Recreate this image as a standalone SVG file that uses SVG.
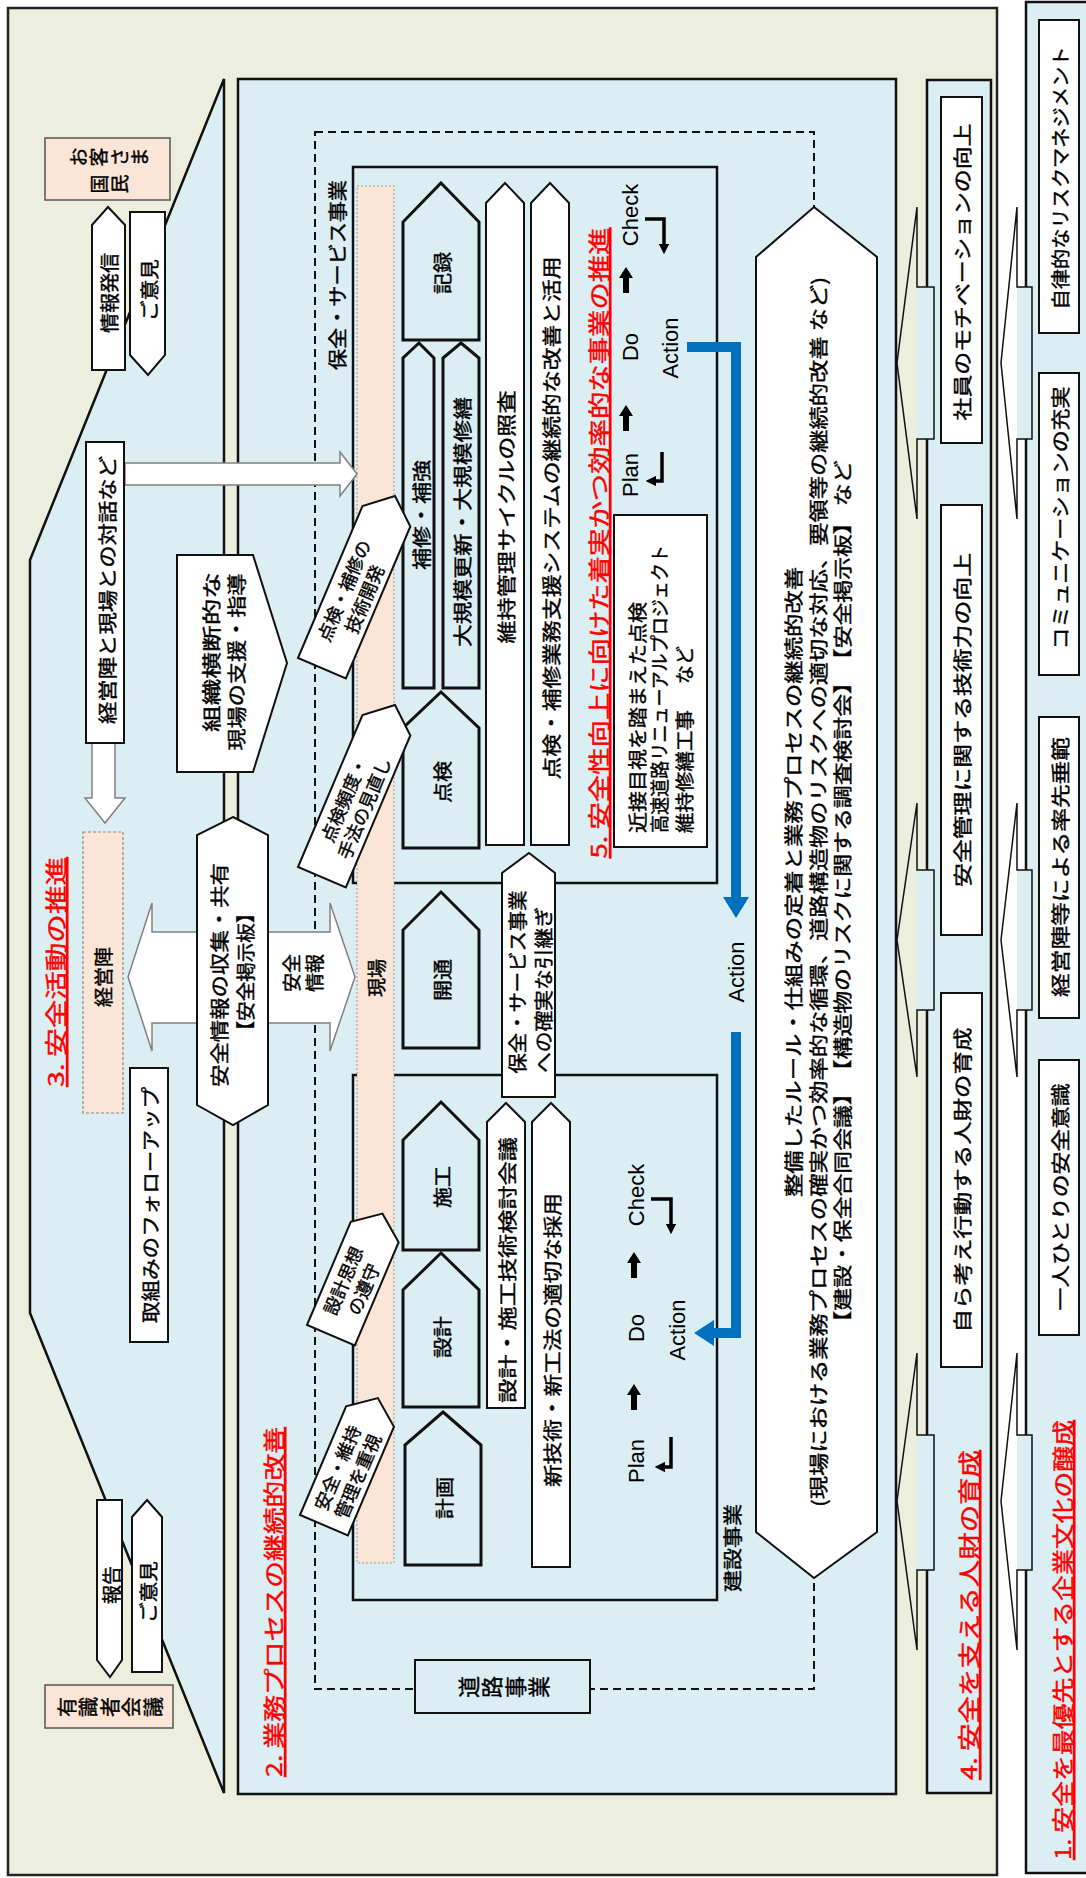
<svg xmlns="http://www.w3.org/2000/svg" width="1086" height="1878" viewBox="0 0 1086 1878">
<defs>
<style>
.jp{font-family:"Noto Sans CJK JP","Noto Sans CJK SC",sans-serif;font-size:19px;fill:#000;stroke:#000;stroke-width:0.4;text-anchor:middle;dominant-baseline:central}
.st{text-anchor:start}
.en{font-family:"Liberation Sans",Arial,sans-serif;font-size:22px;fill:#000;text-anchor:middle;dominant-baseline:central}
.red{fill:#FF0000;stroke:#FF0000;text-decoration:underline;font-size:22px}
.tl{font-size:18px}
.beige{fill:#ECEEDE;stroke:#222;stroke-width:2.5}
.lb{fill:#DAEEF3;stroke:#111;stroke-width:2.5}
.frame{fill:none;stroke:#111;stroke-width:2.5}
.wb{fill:#fff;stroke:#111;stroke-width:2}
.pent{fill:#DAEEF3;stroke:#111;stroke-width:3}
.peach{fill:#FBE5D6;stroke:#555;stroke-width:1.5}
.peachd{fill:#FBE5D6;stroke:#888;stroke-width:1.2;stroke-dasharray:3 2}
.gray{fill:#fff;stroke:#808080;stroke-width:1.5}
.dash{fill:none;stroke:#111;stroke-width:2;stroke-dasharray:8 5}
.blue{fill:none;stroke:#0070C0;stroke-width:10}
.bl{fill:#0070C0}
.bk{fill:none;stroke:#000;stroke-width:3.5}
.shaft{fill:#DAEEF3;stroke:none}
.aout{fill:none;stroke:#111;stroke-width:1.5}
</style>
<marker id="tri" viewBox="0 0 10 10" refX="4" refY="5" markerWidth="3" markerHeight="3" orient="auto"><path d="M0,0 L10,5 L0,10 Z" fill="#000"/></marker>
<path id="uparr" d="M0,-13 L7,-2 L3,-2 L3,13 L-3,13 L-3,-2 L-7,-2 Z" fill="#000"/>
</defs>
<rect x="0" y="0" width="1086" height="1878" fill="#fff"/>

<g id="frame-outer"><rect class="beige" x="8" y="8" width="989" height="1867"/></g>
<g id="strip1"><rect class="lb" x="1026" y="2" width="80" height="1871"/></g>
<g id="trapezoid3"><polygon class="lb" points="224,79 30,560 30,1313 224,1793"/></g>
<g id="box2"><rect class="lb" x="238" y="79" width="658" height="1715"/></g>
<g id="strip4"><rect class="lb" x="927" y="80" width="64" height="1713"/></g>

<g id="road-dashed"><rect class="dash" x="315" y="132" width="499" height="1557"/></g>
<g id="hozen-box"><rect class="frame" x="353" y="167" width="364" height="716"/></g>
<g id="kensetsu-box"><rect class="frame" x="353" y="1075" width="364" height="525"/></g>
<g id="genba-bar"><rect x="357" y="186" width="37" height="1377" fill="#FBE5D6" stroke="#999" stroke-width="1" stroke-dasharray="2 2"/>
<text class="jp" transform="translate(375 978) rotate(-90)">現場</text></g>

<g id="connectors">
<g id="arrowsA">
<rect class="shaft" x="917" y="287" width="17" height="152"/>
<path class="aout" d="M917,207 L897,363 L917,519 L917,439 L934,439 L934,287 L917,287 Z"/>
<rect class="shaft" x="917" y="870" width="17" height="140"/>
<path class="aout" d="M917,803 L897,940 L917,1077 L917,1010 L934,1010 L934,870 L917,870 Z"/>
<rect class="shaft" x="917" y="1435" width="17" height="135"/>
<path class="aout" d="M917,1353 L897,1501 L917,1650 L917,1570 L934,1570 L934,1435 L917,1435 Z"/>
</g>
<g id="arrowsB">
<rect class="shaft" x="1017" y="287" width="15" height="152"/>
<path class="aout" d="M1017,207 L1001,363 L1017,519 L1017,439 L1032,439 L1032,287 L1017,287 Z"/>
<rect class="shaft" x="1017" y="870" width="15" height="140"/>
<path class="aout" d="M1017,803 L1001,940 L1017,1077 L1017,1010 L1032,1010 L1032,870 L1017,870 Z"/>
<rect class="shaft" x="1017" y="1435" width="15" height="135"/>
<path class="aout" d="M1017,1353 L1001,1501 L1017,1650 L1017,1570 L1032,1570 L1032,1435 L1017,1435 Z"/>
</g>
<path id="arr-down-keiei" class="gray" d="M92,743 L115,743 L115,798 L125,798 L105,823 L85,798 L92,798 Z"/>
<path id="arr-right-taiwa" class="gray" d="M125,463 L340,463 L340,452 L357,474 L340,496 L340,485 L125,485 Z"/>
<path id="arr-left-info" class="gray" d="M197,932 L152,932 L152,903 L128,977 L152,1051 L152,1023 L197,1023 Z"/>
<path id="arr-right-info" class="gray" d="M268,932 L330,932 L330,903 L355,977 L330,1051 L330,1023 L268,1023 Z"/>
<g id="blue-arrows">
<path class="blue" d="M687,347 H736 V898"/>
<polygon class="bl" points="723,897 749,897 736,918"/>
<path class="blue" d="M736,1032 V1333 H712"/>
<polygon class="bl" points="714,1320 714,1346 694,1333"/>
</g>
</g>

<g id="okyakusama"><rect class="peach" x="45" y="138" width="125" height="62"/>
<text class="jp" transform="translate(77 157) rotate(-90)">お</text>
<text class="jp" transform="translate(97 157) rotate(-90)">客</text>
<text class="jp" transform="translate(118 157) rotate(-90)">さ</text>
<text class="jp" transform="translate(138 157) rotate(-90)">ま</text>
<text class="jp" transform="translate(98 184) rotate(-90)">国</text>
<text class="jp" transform="translate(118 184) rotate(-90)">民</text></g>
<g id="jouhou-hasshin"><polygon class="wb" points="108,207 125,225 125,370 92,370 92,225"/>
<text class="jp" transform="translate(108 293) rotate(-90)" textLength="80" lengthAdjust="spacingAndGlyphs">情報発信</text></g>
<g id="goiken-top"><polygon class="wb" points="130,212 165,212 165,355 148,375 130,355"/>
<text class="jp" transform="translate(148 290) rotate(-90)" textLength="62" lengthAdjust="spacingAndGlyphs">ご意見</text></g>
<g id="yushiki"><rect class="peach" x="45" y="1685" width="128" height="43"/>
<text class="jp" style="font-size:20px" transform="translate(66 1707) rotate(-90)">有</text>
<text class="jp" style="font-size:20px" transform="translate(87 1707) rotate(-90)">識</text>
<text class="jp" style="font-size:20px" transform="translate(109 1707) rotate(-90)">者</text>
<text class="jp" style="font-size:20px" transform="translate(130 1707) rotate(-90)">会</text>
<text class="jp" style="font-size:20px" transform="translate(152 1707) rotate(-90)">議</text></g>
<g id="houkoku"><polygon class="wb" points="97,1500 122,1500 122,1660 110,1677 97,1660"/>
<text class="jp" transform="translate(110 1585) rotate(-90)">報告</text></g>
<g id="goiken-bottom"><polygon class="wb" points="147,1500 162,1517 162,1672 132,1672 132,1517"/>
<text class="jp" transform="translate(147 1592) rotate(-90)" textLength="62" lengthAdjust="spacingAndGlyphs">ご意見</text></g>

<g id="title3"><text class="jp red" transform="translate(54 972) rotate(-90)" textLength="230" lengthAdjust="spacingAndGlyphs">3. 安全活動の推進</text></g>
<g id="taiwa"><rect class="wb" x="86" y="442" width="38" height="301"/>
<text class="jp" transform="translate(106 590) rotate(-90)" textLength="268" lengthAdjust="spacingAndGlyphs">経営陣と現場との対話など</text></g>
<g id="keieijin"><rect class="peachd" x="83" y="832" width="40" height="281"/>
<text class="jp" transform="translate(102 977) rotate(-90)" textLength="60" lengthAdjust="spacingAndGlyphs">経営陣</text></g>
<g id="followup"><rect class="wb" x="130" y="1068" width="38" height="274"/>
<text class="jp" transform="translate(149 1205) rotate(-90)" textLength="236" lengthAdjust="spacingAndGlyphs">取組みのフォローアップ</text></g>
<g id="soshiki"><polygon class="wb" points="177,555 253,555 287,663 253,772 177,772"/>
<text class="jp" transform="translate(210 652) rotate(-90)" textLength="160" lengthAdjust="spacingAndGlyphs">組織横断的な</text>
<text class="jp" transform="translate(235 662) rotate(-90)" textLength="177" lengthAdjust="spacingAndGlyphs">現場の支援・指導</text></g>
<g id="anzen-jouhou"><polygon class="wb" points="233,817 268,835 268,1105 233,1125 197,1105 197,835"/>
<text class="jp" transform="translate(218 975) rotate(-90)" textLength="224" lengthAdjust="spacingAndGlyphs">安全情報の収集・共有</text>
<text class="jp" transform="translate(244 972) rotate(-90)" textLength="137" lengthAdjust="spacingAndGlyphs">【安全掲示板】</text></g>
<g id="anzen-label"><text class="jp" transform="translate(290 973) rotate(-90)">安全</text>
<text class="jp" transform="translate(313 973) rotate(-90)">情報</text></g>

<g id="title2"><text class="jp red" transform="translate(272 1602) rotate(-90)" textLength="350" lengthAdjust="spacingAndGlyphs">2. 業務プロセスの継続的改善</text></g>
<g id="label-hozen"><text class="jp" transform="translate(336 275) rotate(-90)" textLength="190" lengthAdjust="spacingAndGlyphs">保全・サービス事業</text></g>
<g id="label-kensetsu"><text class="jp" transform="translate(731 1548) rotate(-90)" textLength="88" lengthAdjust="spacingAndGlyphs">建設事業</text></g>
<g id="douro"><rect class="lb" x="415" y="1660" width="175" height="53" style="stroke-width:2"/>
<text class="jp" style="font-size:22px" transform="translate(467 1687) rotate(-90)">道</text>
<text class="jp" style="font-size:22px" transform="translate(490 1687) rotate(-90)">路</text>
<text class="jp" style="font-size:22px" transform="translate(514 1687) rotate(-90)">事</text>
<text class="jp" style="font-size:22px" transform="translate(537 1687) rotate(-90)">業</text></g>

<g id="p-kiroku"><polygon class="pent" points="441,183 479,222 479,340 403,340 403,222"/><text class="jp" transform="translate(441 273) rotate(-90)" textLength="42" lengthAdjust="spacingAndGlyphs">記録</text></g>
<g id="p-hoshu"><polygon class="pent" points="419,343 434,358 434,688 403,688 403,358"/><text class="jp" transform="translate(420 515) rotate(-90)" textLength="110" lengthAdjust="spacingAndGlyphs">補修・補強</text></g>
<g id="p-daikibo"><polygon class="pent" points="461,343 479,358 479,688 443,688 443,358"/><text class="jp" transform="translate(461 522) rotate(-90)" textLength="250" lengthAdjust="spacingAndGlyphs">大規模更新・大規模修繕</text></g>
<g id="p-tenken"><polygon class="pent" points="441,692 479,728 479,848 403,848 403,728"/><text class="jp" transform="translate(441 782) rotate(-90)" textLength="42" lengthAdjust="spacingAndGlyphs">点検</text></g>
<g id="p-kaitsu"><polygon class="pent" points="441,892 479,930 479,1048 403,1048 403,930"/><text class="jp" transform="translate(441 980) rotate(-90)" textLength="42" lengthAdjust="spacingAndGlyphs">開通</text></g>
<g id="p-seko"><polygon class="pent" points="441,1102 479,1140 479,1250 403,1250 403,1140"/><text class="jp" transform="translate(441 1187) rotate(-90)" textLength="42" lengthAdjust="spacingAndGlyphs">施工</text></g>
<g id="p-sekkei"><polygon class="pent" points="441,1253 479,1290 479,1407 403,1407 403,1290"/><text class="jp" transform="translate(441 1337) rotate(-90)" textLength="42" lengthAdjust="spacingAndGlyphs">設計</text></g>
<g id="p-keikaku"><polygon class="pent" points="443,1412 481,1445 481,1565 405,1565 405,1445"/><text class="jp" transform="translate(443 1498) rotate(-90)" textLength="42" lengthAdjust="spacingAndGlyphs">計画</text></g>

<g id="w-shosa"><polygon class="wb" points="505,183 524,203 524,845 486,845 486,203"/><text class="jp" transform="translate(505 517) rotate(-90)" textLength="253" lengthAdjust="spacingAndGlyphs">維持管理サイクルの照査</text></g>
<g id="w-system"><polygon class="wb" points="550,183 569,203 569,845 531,845 531,203"/><text class="jp" transform="translate(550 518) rotate(-90)" textLength="523" lengthAdjust="spacingAndGlyphs">点検・補修業務支援システムの継続的な改善と活用</text></g>
<g id="w-kaigi"><polygon class="wb" points="506,1103 525,1122 525,1408 487,1408 487,1122"/><text class="jp" transform="translate(506 1270) rotate(-90)" textLength="266" lengthAdjust="spacingAndGlyphs">設計・施工技術検討会議</text></g>
<g id="w-shingijutsu"><polygon class="wb" points="551,1103 570,1122 570,1567 532,1567 532,1122"/><text class="jp" transform="translate(551 1340) rotate(-90)" textLength="294" lengthAdjust="spacingAndGlyphs">新技術・新工法の適切な採用</text></g>
<g id="hikitsugi"><polygon class="wb" points="529,853 555,873 555,1097 502,1097 502,873"/>
<text class="jp" transform="translate(516 982) rotate(-90)" textLength="183" lengthAdjust="spacingAndGlyphs">保全・サービス事業</text>
<text class="jp" transform="translate(542 990) rotate(-90)" textLength="166" lengthAdjust="spacingAndGlyphs">への確実な引継ぎ</text></g>

<g id="title5"><text class="jp red" transform="translate(597 543) rotate(-90)" textLength="631" lengthAdjust="spacingAndGlyphs">5. 安全性向上に向けた着実かつ効率的な事業の推進</text></g>
<g id="kinsetsu"><rect class="wb" x="614" y="515" width="93" height="332"/>
<text class="jp st" transform="translate(636 833) rotate(-90)" textLength="231" lengthAdjust="spacingAndGlyphs">近接目視を踏まえた点検</text>
<text class="jp st" transform="translate(658 833) rotate(-90)" textLength="288" lengthAdjust="spacingAndGlyphs">高速道路リニューアルプロジェクト</text>
<text class="jp st" transform="translate(683 833) rotate(-90)" textLength="123" lengthAdjust="spacingAndGlyphs">維持修繕工事</text>
<text class="jp" transform="translate(683 665) rotate(-90)">など</text></g>

<g id="pdca-hozen">
<text class="en" transform="translate(630 215) rotate(-90)">Check</text>
<path class="bk" d="M645,219 H664 V248" marker-end="url(#tri)"/>
<use href="#uparr" x="626" y="280"/>
<text class="en" transform="translate(630 347) rotate(-90)">Do</text>
<use href="#uparr" x="626" y="418"/>
<text class="en" transform="translate(630 475) rotate(-90)">Plan</text>
<path class="bk" d="M662,452 V481 H652" marker-end="url(#tri)"/>
<text class="en" transform="translate(670 348) rotate(-90)">Action</text>
</g>
<g id="pdca-kensetsu">
<text class="en" transform="translate(636 1195) rotate(-90)">Check</text>
<path class="bk" d="M651,1199 H671 V1228" marker-end="url(#tri)"/>
<use href="#uparr" x="634" y="1265"/>
<text class="en" transform="translate(636 1328) rotate(-90)">Do</text>
<use href="#uparr" x="634" y="1397"/>
<text class="en" transform="translate(636 1461) rotate(-90)">Plan</text>
<path class="bk" d="M671,1437 V1467 H661" marker-end="url(#tri)"/>
<text class="en" transform="translate(677 1330) rotate(-90)">Action</text>
</g>
<g id="action-mid"><text class="en" transform="translate(736 972) rotate(-90)">Action</text></g>

<g id="seibi"><polygon class="wb" points="814,207 877,257 877,1532 814,1578 756,1532 756,257"/>
<text class="jp" transform="translate(792 882) rotate(-90)" textLength="630" lengthAdjust="spacingAndGlyphs">整備したルール・仕組みの定着と業務プロセスの継続的改善</text>
<text class="jp" transform="translate(817 892) rotate(-90)" textLength="1230" lengthAdjust="spacingAndGlyphs">(現場における業務プロセスの確実かつ効率的な循環、道路構造物のリスクへの適切な対応、要領等の継続的改善 など)</text>
<text class="jp" transform="translate(841 897) rotate(-90)" textLength="873" lengthAdjust="spacingAndGlyphs">【建設・保全合同会議】　【構造物のリスクに関する調査検討会】　【安全掲示板】 など</text></g>

<g id="t-gijutsu" transform="translate(298 658) rotate(-67)"><polygon class="wb" points="0,0 165,0 187,26 165,52 0,52"/>
<text class="jp tl" x="80" y="15">点検・補修の</text><text class="jp tl" x="80" y="37">技術開発</text></g>
<g id="t-hindo" transform="translate(298 867) rotate(-67)"><polygon class="wb" points="0,0 165,0 187,26 165,52 0,52"/>
<text class="jp tl" x="80" y="15">点検頻度・</text><text class="jp tl" x="80" y="37">手法の見直し</text></g>
<g id="t-sekkei" transform="translate(307 1325) rotate(-67)"><polygon class="wb" points="0,0 112,0 132,26 112,52 0,52"/>
<text class="jp tl" x="55" y="15">設計思想</text><text class="jp tl" x="55" y="37">の遵守</text></g>
<g id="t-iji" transform="translate(300 1515) rotate(-67)"><polygon class="wb" points="0,0 118,0 138,26 118,52 0,52"/>
<text class="jp tl" x="58" y="15">安全・維持</text><text class="jp tl" x="58" y="37">管理を重視</text></g>

<g id="s4-motivation"><rect class="wb" x="941" y="97" width="41" height="346"/><text class="jp" transform="translate(961 272) rotate(-90)" textLength="297" lengthAdjust="spacingAndGlyphs">社員のモチベーションの向上</text></g>
<g id="s4-gijutsu"><rect class="wb" x="941" y="505" width="41" height="430"/><text class="jp" transform="translate(961 720) rotate(-90)" textLength="334" lengthAdjust="spacingAndGlyphs">安全管理に関する技術力の向上</text></g>
<g id="s4-jinzai"><rect class="wb" x="941" y="993" width="41" height="374"/><text class="jp" transform="translate(961 1180) rotate(-90)" textLength="305" lengthAdjust="spacingAndGlyphs">自ら考え行動する人財の育成</text></g>
<g id="title4"><text class="jp red" transform="translate(967 1615) rotate(-90)" textLength="330" lengthAdjust="spacingAndGlyphs">4. 安全を支える人財の育成</text></g>

<g id="s1-risk"><rect class="wb" x="1039" y="20" width="40" height="313"/><text class="jp" transform="translate(1059 178) rotate(-90)" textLength="263" lengthAdjust="spacingAndGlyphs">自律的なリスクマネジメント</text></g>
<g id="s1-comm"><rect class="wb" x="1039" y="373" width="40" height="302"/><text class="jp" transform="translate(1059 518) rotate(-90)" textLength="263" lengthAdjust="spacingAndGlyphs">コミュニケーションの充実</text></g>
<g id="s1-keiei"><rect class="wb" x="1039" y="717" width="40" height="301"/><text class="jp" transform="translate(1059 867) rotate(-90)" textLength="260" lengthAdjust="spacingAndGlyphs">経営陣等による率先垂範</text></g>
<g id="s1-ishiki"><rect class="wb" x="1039" y="1060" width="40" height="275"/><text class="jp" transform="translate(1059 1197) rotate(-90)" textLength="227" lengthAdjust="spacingAndGlyphs">一人ひとりの安全意識</text></g>
<g id="title1"><text class="jp red" transform="translate(1061 1640) rotate(-90)" textLength="440" lengthAdjust="spacingAndGlyphs">1. 安全を最優先とする企業文化の醸成</text></g>
</svg>
